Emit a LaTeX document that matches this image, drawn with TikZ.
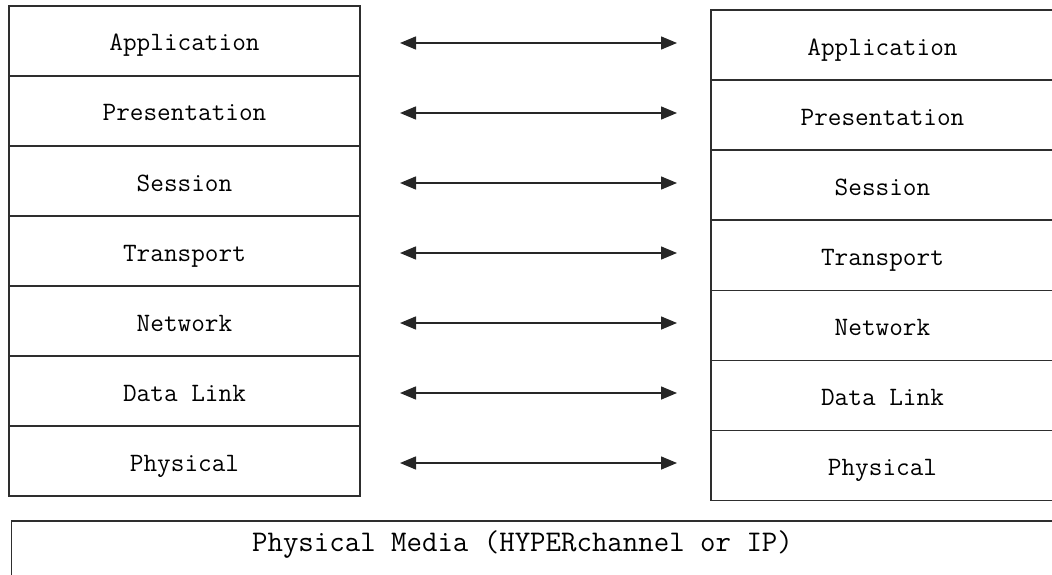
\documentclass[tikz,border=0pt]{standalone}
\usepackage{fontspec}
\usetikzlibrary{arrows.meta}
\begin{document}
\begin{tikzpicture}[x=1pt,y=-1pt,
  layerbox/.style={draw=black!82, line width=1.6pt, rectangle, inner sep=0pt,
     minimum height=70pt, text height=20pt, text depth=0pt,
     font=\ttfamily\fontsize{26.5}{26.5}\selectfont},
  leftbox/.style={layerbox, minimum width=351pt},
  rightbox/.style={layerbox, minimum width=343pt},
  peer/.style={line width=1.5pt, draw=black!85,
     {Triangle[length=16pt,width=13pt]}-{Triangle[length=16pt,width=13pt]}}]
\useasboundingbox (0,0) rectangle (1052,575);
\clip (0,0) rectangle (1052,575);
\foreach \name [count=\i from 0] in {Application,Presentation,Session,Transport,Network,Data Link,Physical}{
  \node[leftbox] (L\i) at (184.5, 41+70*\i) {\name};
  \node[rightbox] (R\i) at (882.5, 45.05+70.1*\i) {\name};
  \coordinate (al\i) at (400, 43+70*\i);
  \coordinate (ar\i) at (677, 43+70*\i);
  \draw[peer] (al\i) -- (ar\i);
}
\node[draw=black!82, line width=1.6pt, rectangle, minimum width=1060pt, minimum height=80pt,
  anchor=north west, inner sep=0pt] (media) at (10.5,520) {};
\node[font=\ttfamily\fontsize{30}{30}\selectfont, inner sep=0pt, text height=16pt, text depth=0pt] (medialabel) at (522.5,543) {Physical Media (HYPERchannel or IP)};
\end{tikzpicture}
\end{document}
